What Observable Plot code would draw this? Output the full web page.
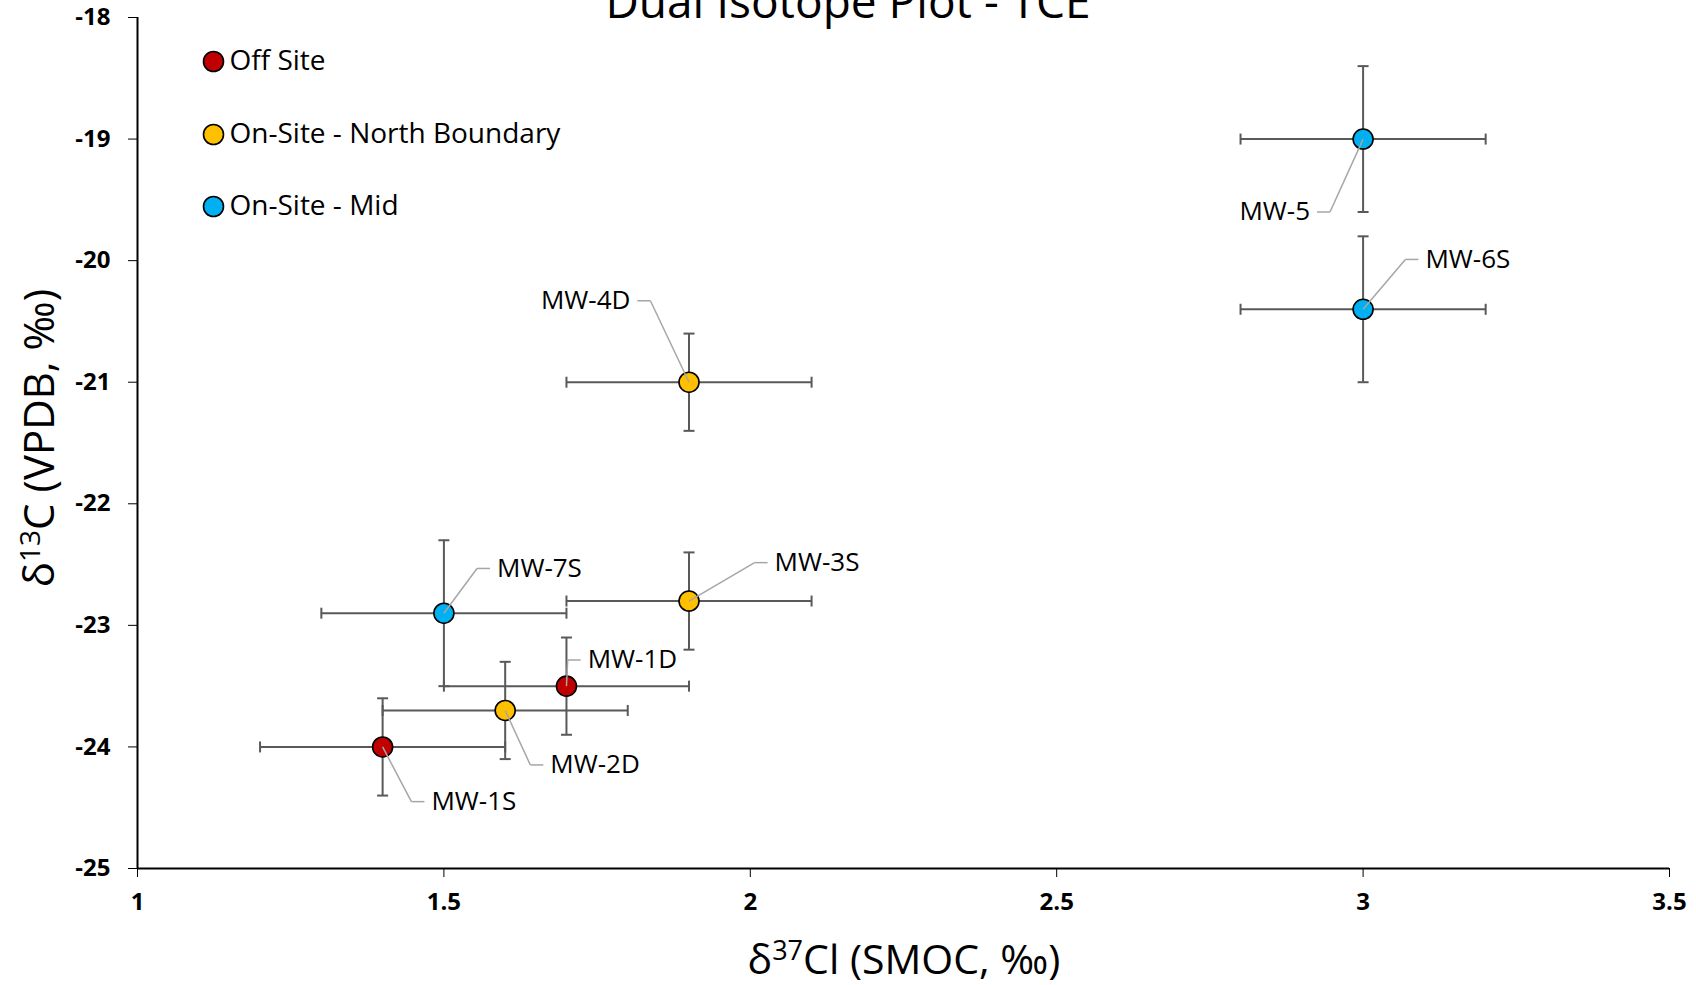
<!DOCTYPE html>
<html>
<head>
<meta charset="utf-8">
<script src="https://cdn.jsdelivr.net/npm/d3@7"></script>
<script src="https://cdn.jsdelivr.net/npm/@observablehq/plot@0.6"></script>
<style>
  body { margin: 0; background: #fff; }
  #chart svg { display: block; }
</style>
</head>
<body>
<div id="chart"></div>
<script>
// Monitoring wells: dual isotope values for TCE
const sampleNames = ["MW-1S", "MW-1D", "MW-2D", "MW-3S", "MW-4D", "MW-7S", "MW-5", "MW-6S"];
const sampleGroups = ["Off Site", "Off Site",
  "On-Site - North Boundary", "On-Site - North Boundary", "On-Site - North Boundary",
  "On-Site - Mid", "On-Site - Mid", "On-Site - Mid"];
const d37Cl = [1.4, 1.7, 1.6, 1.9, 1.9, 1.5, 3.0, 3.0];
const d13C = [-24.0, -23.5, -23.7, -22.8, -21.0, -22.9, -19.0, -20.4];
const d37ClErr = [0.2, 0.2, 0.2, 0.2, 0.2, 0.2, 0.2, 0.2];
const d13CErr = [0.4, 0.4, 0.4, 0.4, 0.4, 0.6, 0.6, 0.6];

// Where each data label's leader line bends (data units) and which side the text sits
const labelX = [1.447, 1.702, 1.641, 2.007, 1.837, 1.554, 2.946, 3.069];
const labelY = [-24.45, -23.285, -24.148, -22.484, -20.33, -22.532, -19.60, -19.99];
const labelSide = ["right", "right", "right", "right", "left", "right", "left", "right"];

const groupNames = ["Off Site", "On-Site - North Boundary", "On-Site - Mid"];
const groupColors = ["#C00000", "#FFC000", "#00B0F0"];

const xTicks = [1, 1.5, 2, 2.5, 3, 3.5];
const yTicks = [-18, -19, -20, -21, -22, -23, -24, -25];

const rows = sampleNames.map((name, i) => ({
  name, group: sampleGroups[i],
  cl: d37Cl[i], c: d13C[i], clErr: d37ClErr[i], cErr: d13CErr[i],
  lx: labelX[i], ly: labelY[i], side: labelSide[i]
}));

// Symbols for error-bar caps and the short horizontal part of each leader line
const capV = {draw(ctx, size) { const h = Math.sqrt(size / Math.PI); ctx.moveTo(0, -h); ctx.lineTo(0, h); }};
const capH = {draw(ctx, size) { const h = Math.sqrt(size / Math.PI); ctx.moveTo(-h, 0); ctx.lineTo(h, 0); }};
const stubRight = {draw(ctx) { ctx.moveTo(0, 0); ctx.lineTo(13, 0); }};
const stubLeft = {draw(ctx) { ctx.moveTo(0, 0); ctx.lineTo(-13, 0); }};

const errColor = "#595959";
const leaderColor = "#a6a6a6";
const legendDy = [44, 117, 189];
const font = "'Open Sans', Lato, sans-serif";

const chart = Plot.plot({
  width: 1696,
  height: 985,
  marginLeft: 137,
  marginRight: 27,
  marginTop: 17,
  marginBottom: 117,
  style: {fontFamily: font, background: "white", color: "black"},
  x: {domain: [1, 3.5]},
  y: {domain: [-25, -18]},
  color: {domain: groupNames, range: groupColors},
  marks: [
    Plot.axisX(xTicks, {tickFormat: d => String(d), tickSize: 9, tickPadding: 15,
      fontSize: 24, fontWeight: "bold", label: null}),
    Plot.axisY(yTicks, {tickFormat: d => String(d), tickSize: 9, tickPadding: 18,
      fontSize: 24, fontWeight: "bold", label: null}),
    Plot.ruleX([1], {stroke: "black", strokeWidth: 2}),
    Plot.ruleY([-25], {stroke: "black", strokeWidth: 2}),

    // error bars
    Plot.ruleY(rows, {y: "c", x1: d => d.cl - d.clErr, x2: d => d.cl + d.clErr, stroke: errColor, strokeWidth: 2}),
    Plot.ruleX(rows, {x: "cl", y1: d => d.c - d.cErr, y2: d => d.c + d.cErr, stroke: errColor, strokeWidth: 2}),
    Plot.dot(rows, {x: d => d.cl - d.clErr, y: "c", symbol: capV, r: 5.5, fill: "none", stroke: errColor, strokeWidth: 2}),
    Plot.dot(rows, {x: d => d.cl + d.clErr, y: "c", symbol: capV, r: 5.5, fill: "none", stroke: errColor, strokeWidth: 2}),
    Plot.dot(rows, {x: "cl", y: d => d.c - d.cErr, symbol: capH, r: 5.5, fill: "none", stroke: errColor, strokeWidth: 2}),
    Plot.dot(rows, {x: "cl", y: d => d.c + d.cErr, symbol: capH, r: 5.5, fill: "none", stroke: errColor, strokeWidth: 2}),

    // samples
    Plot.dot(rows, {x: "cl", y: "c", r: 10, fill: "group", stroke: "black", strokeWidth: 1.6}),

    // data labels with leader lines
    Plot.link(rows, {x1: "cl", y1: "c", x2: "lx", y2: "ly", stroke: leaderColor, strokeWidth: 1.5}),
    Plot.dot(rows.filter(d => d.side === "right"), {x: "lx", y: "ly", symbol: stubRight, fill: "none", stroke: leaderColor, strokeWidth: 1.5}),
    Plot.dot(rows.filter(d => d.side === "left"), {x: "lx", y: "ly", symbol: stubLeft, fill: "none", stroke: leaderColor, strokeWidth: 1.5}),
    Plot.text(rows.filter(d => d.side === "right"), {x: "lx", y: "ly", text: "name", dx: 20, textAnchor: "start",
      lineAnchor: "middle", fontSize: 26, fill: "black"}),
    Plot.text(rows.filter(d => d.side === "left"), {x: "lx", y: "ly", text: "name", dx: -20, textAnchor: "end",
      lineAnchor: "middle", fontSize: 26, fill: "black"}),

    // legend in the top-left corner of the frame
    ...groupNames.map((g, i) => Plot.dot([g], {frameAnchor: "top-left", dx: 76, dy: legendDy[i], r: 10,
      fill: d => d, stroke: "black", strokeWidth: 1.6})),
    ...groupNames.map((g, i) => Plot.text([g], {frameAnchor: "top-left", dx: 92, dy: legendDy[i], text: d => d,
      textAnchor: "start", lineAnchor: "middle", fontSize: 28, fill: "black"}))
  ]
});

const svg = d3.select(chart);

// chart title
svg.append("text")
  .attr("x", 848).attr("y", 18)
  .attr("text-anchor", "middle")
  .attr("font-family", font).attr("font-size", 46)
  .attr("fill", "black")
  .text("Dual Isotope Plot - TCE");

// x axis title with superscript
const xt = svg.append("text")
  .attr("x", 904).attr("y", 974)
  .attr("text-anchor", "middle")
  .attr("font-family", font).attr("font-size", 41)
  .attr("fill", "black");
xt.append("tspan").text("δ");
xt.append("tspan").attr("font-size", 27).attr("dy", -14).text("37");
xt.append("tspan").attr("dy", 14).text("Cl (SMOC, ‰)");

// y axis title with superscript
const yt = svg.append("text")
  .attr("transform", "rotate(-90)")
  .attr("x", -438).attr("y", 54)
  .attr("text-anchor", "middle")
  .attr("font-family", font).attr("font-size", 42)
  .attr("fill", "black");
yt.append("tspan").text("δ");
yt.append("tspan").attr("font-size", 28).attr("dy", -14).text("13");
yt.append("tspan").attr("dy", 14).text("C (VPDB, ‰)");

document.getElementById("chart").append(chart);
</script>
</body>
</html>
